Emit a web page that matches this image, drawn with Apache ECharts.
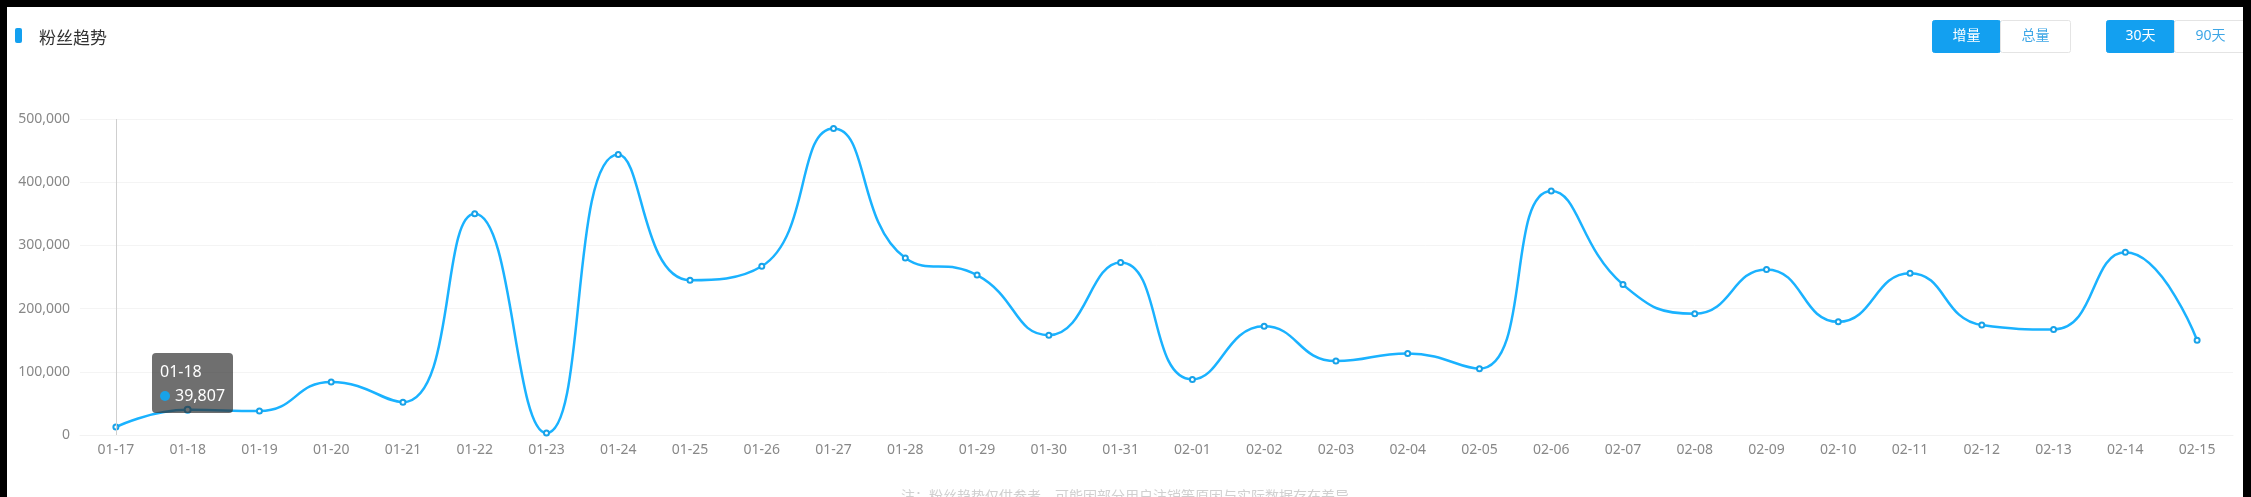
<!DOCTYPE html>
<html>
<head>
<meta charset="utf-8">
<script src="https://cdn.jsdelivr.net/npm/echarts@6/dist/echarts.min.js"></script>
<style>
html,body{margin:0;padding:0;width:2251px;height:497px;background:#000;overflow:hidden;}
#chart{position:absolute;left:7px;top:7px;width:2236px;height:490px;background:#fff;}
</style>
</head>
<body>
<div id="chart"></div>
<script>
const categories = ['01-17','01-18','01-19','01-20','01-21','01-22','01-23','01-24','01-25','01-26','01-27','01-28','01-29','01-30','01-31','02-01','02-02','02-03','02-04','02-05','02-06','02-07','02-08','02-09','02-10','02-11','02-12','02-13','02-14','02-15'];
const fansGain = [12500,39807,38000,84000,52000,350000,3000,444000,245000,267000,485000,280000,253000,158000,273000,88000,172000,117000,129000,105000,386000,238000,192000,262000,179000,256000,174000,167000,289000,150000];
const yTicks = [0,100000,200000,300000,400000,500000];
const titleText = '粉丝趋势';
const buttonsA = ['增量','总量'];
const buttonsB = ['30天','90天'];
const noteText = '注：粉丝趋势仅供参考，可能因部分用户注销等原因与实际数据存在差异';

const FONT = "'Noto Sans','Noto Sans CJK SC',sans-serif";
const BLUE = '#18a2e8';
const BTN = '#13a0f0';

const chart = echarts.init(document.getElementById('chart'), null, {renderer:'canvas'});

function btn(x, w, label, active){
  return {
    type:'group', left:x, top:13,
    children:[
      {type:'rect', shape:{x:0,y:0,width:w,height:32,r:2},
       style:{fill: active?BTN:'#fff', stroke: active?BTN:'#e4e4e4', lineWidth:1}},
      {type:'text', style:{x:w/2, y:16, text:label, fill: active?'#fff':'#3da6e6',
        font:'14px '+FONT, textAlign:'center', textVerticalAlign:'middle'}}
    ]
  };
}

const option = {
  animation:false,
  backgroundColor:'#fff',
  title:{
    text:titleText, left:27, top:19,
    textStyle:{fontSize:17, fontWeight:'normal', color:'#333', fontFamily:FONT}
  },
  graphic:[
    {type:'rect', left:8, top:21, shape:{width:7,height:15,r:2}, style:{fill:BTN}},
    btn(1925, 68, buttonsA[0], true),
    btn(1993, 70, buttonsA[1], false),
    btn(2099, 68, buttonsB[0], true),
    btn(2167, 72, buttonsB[1], false),
    {type:'text', left:'center', top:483, style:{text:noteText, fill:'#d0d0d0', font:'14px '+FONT}}
  ],
  grid:{left:73, right:10, top:112, bottom:62, containLabel:false},
  tooltip:{
    trigger:'axis',
    triggerOn:'none',
    alwaysShowContent:true,
    transitionDuration:0,
    axisPointer:{type:'none'},
    backgroundColor:'rgba(50,50,50,0.7)',
    borderWidth:0,
    borderRadius:4,
    padding:[6,8,6,8],
    extraCssText:'box-shadow:none;',
    textStyle:{color:'#fff', fontSize:16, fontFamily:FONT},
    position:function(){ return [145, 346]; },
    formatter:function(params){
      const p = params[0];
      return p.name + '<br/>' +
        '<span style="display:inline-block;margin-right:5px;border-radius:5px;width:10px;height:10px;background-color:'+BLUE+';"></span>' +
        p.value.toLocaleString('en-US');
    }
  },
  xAxis:{
    type:'category',
    data:categories,
    boundaryGap:true,
    axisLine:{show:true, lineStyle:{color:'#f2f2f2'}},
    axisTick:{show:false},
    axisLabel:{color:'#888', fontSize:14, margin:8, fontFamily:FONT, interval:0}
  },
  yAxis:{
    type:'value',
    min:yTicks[0], max:yTicks[yTicks.length-1], interval:yTicks[1]-yTicks[0],
    axisLine:{show:false},
    axisTick:{show:false},
    axisLabel:{color:'#888', fontSize:14, margin:10, fontFamily:FONT,
      formatter:function(v){ return v.toLocaleString('en-US'); }},
    splitLine:{lineStyle:{color:'#f4f4f4', width:1}}
  },
  series:[{
    name:'粉丝增量',
    type:'line',
    data:fansGain,
    smooth:true,
    symbol:'emptyCircle',
    symbolSize:5,
    showSymbol:true,
    lineStyle:{color:BLUE, width:2.5},
    itemStyle:{color:BLUE, borderColor:BLUE, borderWidth:1},
    markLine:{
      silent:true,
      symbol:['none','none'],
      label:{show:false},
      lineStyle:{color:'#cfcfcf', type:'solid', width:1},
      data:[{xAxis:categories[0]}]
    }
  }]
};
chart.setOption(option);
function tip(){ chart.dispatchAction({type:'showTip', seriesIndex:0, dataIndex:1}); }
tip();
setTimeout(tip, 30);
setTimeout(tip, 200);
</script>
</body>
</html>
